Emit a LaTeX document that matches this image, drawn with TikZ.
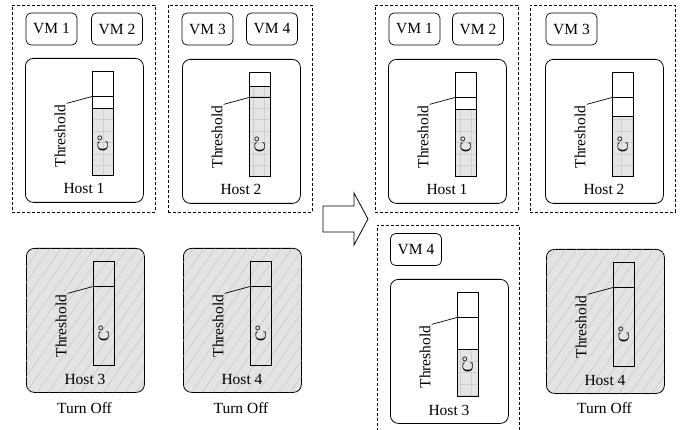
\documentclass[tikz,border=0pt]{standalone}
\usepackage{fontspec}
\setmainfont{Liberation Serif}
\usetikzlibrary{calc, patterns.meta}

\begin{document}
\begin{tikzpicture}[
  x=1pt, y=-1pt,
  font=\fontsize{15.5}{18}\selectfont,
  group/.style={draw, dash pattern=on 3pt off 2pt, line width=0.6pt, anchor=north west, minimum height=207pt, inner sep=0pt},
  vm/.style={draw, rounded corners=5pt, minimum width=51pt, minimum height=32pt, inner sep=0pt, line width=0.7pt},
  host/.style={draw, rounded corners=8pt, minimum width=118pt, minimum height=144pt, inner sep=0pt, line width=0.8pt, anchor=north west},
  offhost/.style={host, fill=gray!22, postaction={pattern={Lines[angle=55, distance=9pt, line width=0.5pt]}, pattern color=gray!45}},
  bar/.style={draw, minimum width=21pt, minimum height=104pt, inner sep=0pt, anchor=north west, line width=0.8pt},
  cpuload/.style={fill=gray!20, postaction={pattern={Hatch[angle=0, distance=11.5pt, line width=0.8pt]}, pattern color=gray!38}},
  level/.style={line width=1.3pt}
]
\useasboundingbox (0,0) rectangle (688,430);

% groups of machines
\node[group, minimum width=143pt] (ga1) at (12,5) {};
\node[group, minimum width=144pt] (ga2) at (168,5) {};
\node[group, minimum width=143pt] (gb1) at (375,5) {};
\node[group, minimum width=145pt] (gb2) at (530,5) {};
\draw[dash pattern=on 3pt off 2pt, line width=0.6pt] (377,431) |- (519,225) -- (519,431);

% virtual machines
\node[vm] (vma1) at (51.5,29) {VM 1};
\node[vm] (vma2) at (117,29) {VM 2};
\node[vm] (vma3) at (207.5,29) {VM 3};
\node[vm] (vma4) at (272,29) {VM 4};
\node[vm] (vmb1) at (414.5,29) {VM 1};
\node[vm] (vmb2) at (478,29) {VM 2};
\node[vm] (vmb3) at (571.5,29) {VM 3};
\node[vm] (vmb4) at (416,249.5) {VM 4};

% hosts with their temperature bars
\foreach \h/\x/\y/\t/\s/\f in {a1/25/58/1/host/38, a2/182/59/2/host/15, a3/26/248/3/offhost/0, a4/183/248/4/offhost/0,
                               b1/388/59/1/host/38, b2/545/59/2/host/45, b3/390/279/3/host/57, b4/546/249/4/offhost/0} {
  \node[\s] (host\h) at (\x,\y) {};
  \ifnum\f>0
    \fill[cpuload] ($(host\h.north west)+(67,13+\f)$) rectangle ($(host\h.north west)+(88,117)$);
  \fi
  \node[bar] (bar\h) at ($(host\h.north west)+(67,13)$) {};
  \ifnum\f>0
    \draw[line width=1pt] ($(bar\h.north west)+(0,\f)$) -- ++(21,0);
  \fi
  \coordinate (lim\h) at ($(bar\h.north west)+(0,25.5)$);
  \draw[level] (lim\h) -- (lim\h -| bar\h.east);
  \node[rotate=90, inner sep=1pt] (thr\h) at ($(host\h.north west)+(35,78)$) {Threshold};
  \draw[line width=0.7pt] (thr\h.south east) -- (lim\h);
  \node[rotate=90] (deg\h) at ($(bar\h.center)+(0,20)$) {C°};
  \node[anchor=base] (lab\h) at ($(host\h.north west)+(59,136)$) {Host \t};
}

\node[anchor=base] (offa3) at (84.5,413) {Turn Off};
\node[anchor=base] (offa4) at (241,413) {Turn Off};
\node[anchor=base] (offb4) at (604.5,413) {Turn Off};

% migration arrow
\draw[line width=0.8pt] (323,206) -- (354,206) -- (354,193) -- (368,219) -- (354,245) -- (354,232) -- (323,232) -- cycle;
\end{tikzpicture}
\end{document}
